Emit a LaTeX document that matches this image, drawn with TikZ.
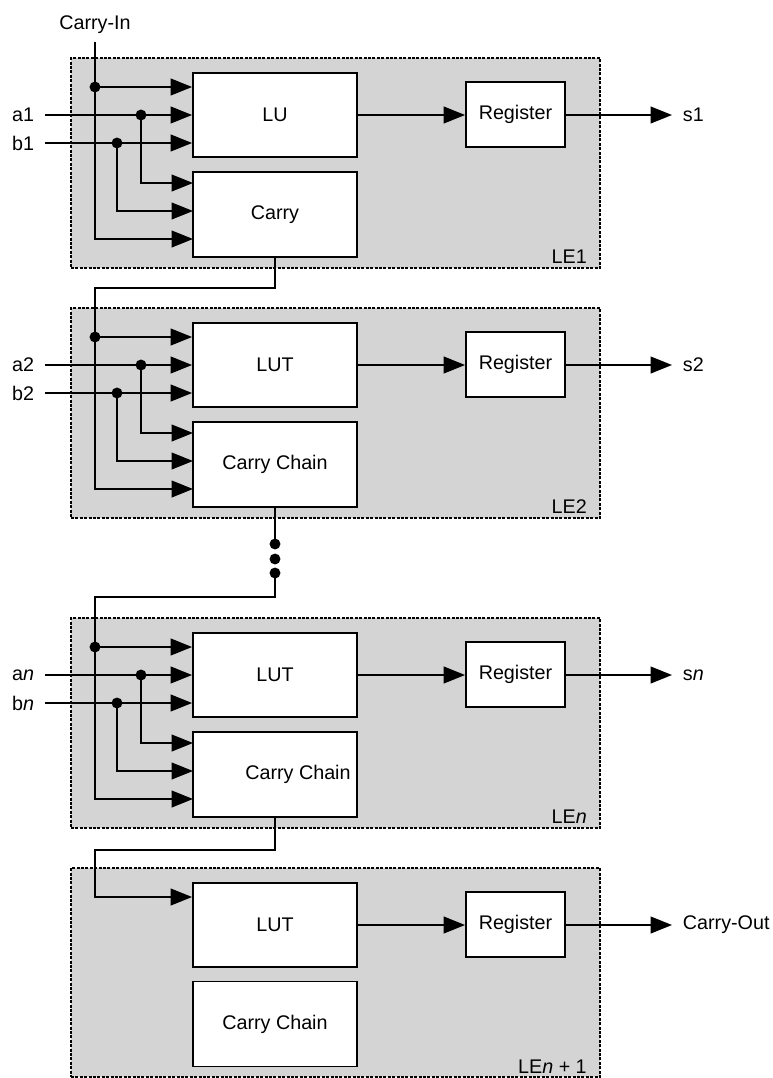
\documentclass[tikz,border=0pt]{standalone}
\usepackage{fontspec}
\setmainfont{Liberation Sans}
\usetikzlibrary{arrows.meta}
\begin{document}
\begin{tikzpicture}[x=0.75pt,y=-0.75pt,
  font=\fontsize{14.8}{17}\selectfont,
  le/.style={draw, fill=black!17, dash pattern=on 2.2pt off 1.1pt, line width=1.8pt, inner sep=0pt, minimum width=396.75pt, minimum height=157.5pt},
  blk/.style={draw, fill=white, line width=1.4pt, inner sep=0pt},
  lubox/.style={blk, minimum width=123pt, minimum height=63pt},
  cybox/.style={blk, minimum width=123pt, minimum height=63.75pt},
  regbox/.style={blk, minimum width=74.25pt, minimum height=48.75pt},
  wire/.style={line width=1.4pt},
  arr/.style={wire, -{Triangle[length=16pt,width=12.5pt]}},
  jdot/.style={circle, fill=black, inner sep=0pt, minimum size=8.2pt},
  inl/.style={anchor=east, inner xsep=8pt, inner ysep=0pt},
  outl/.style={anchor=west, inner xsep=8pt, inner ysep=0pt},
  lelbl/.style={anchor=base east, inner sep=0pt}]
\useasboundingbox (0,0) rectangle (772,1078);

% Carry-In
\node[anchor=base, inner sep=0pt] (cin) at (95,29) {Carry-In};
\coordinate (cintop) at (95,42);

\foreach \i/\o/\t/\ta/\tb/\hs in {1/0/1/LU/Carry/0pt, 2/250/2/LUT/Carry Chain/0pt, n/560/{\textit{n}}/LUT/Carry Chain/34.5pt} {
  \node[le] (le\i) at (335.5,163+\o) {};
  \node[lelbl] (lel\i) at (587,263+\o) {LE\t};
  \node[lubox] (lu\i) at (275,115+\o) {\ta};
  \node[cybox] (cy\i) at (275,214.5+\o) {\hspace*{\hs}\tb};
  \node[regbox] (reg\i) at (515.5,114.5+\o) {Register};
  \node[jdot] (c\i) at (95,87+\o) {};
  \node[jdot] (da\i) at (141,115+\o) {};
  \node[jdot] (db\i) at (117,143+\o) {};
  \node[inl] (a\i) at (45,115+\o) {a\t};
  \node[inl] (b\i) at (45,143+\o) {b\t};
  \node[outl] (s\i) at (672,115+\o) {s\t};
  \coordinate (ia\i) at (193,183+\o);
  \coordinate (ib\i) at (193,211+\o);
  \coordinate (ic\i) at (193,239+\o);
  \draw[arr] (c\i.center) -- (lu\i.west |- c\i);
  \draw[arr] (a\i.east) -- (lu\i.west |- a\i.east);
  \draw[arr] (b\i.east) -- (lu\i.west |- b\i.east);
  \draw[arr] (c\i.center) |- (ic\i);
  \draw[arr] (da\i.center) |- (ia\i);
  \draw[arr] (db\i.center) |- (ib\i);
  \draw[arr] (lu\i.east) -- (reg\i.west |- lu\i.east);
  \draw[arr] (reg\i.east |- s\i.west) -- (s\i.west);
}

% LE n+1
\node[le, minimum height=156.75pt] (le4) at (335.5,972.5) {};
\node[lelbl] (lel4) at (587,1073) {LE\textit{n} + 1};
\node[lubox] (lu4) at (275,925) {LUT};
\node[cybox] (cy4) at (275,1024) {Carry Chain};
\node[regbox] (reg4) at (515.5,924.5) {Register};
\node[outl] (cout) at (672,925) {Carry-Out};
\draw[arr] (lu4.east) -- (reg4.west |- lu4.east);
\draw[arr] (reg4.east |- cout.west) -- (cout.west);

% carry connections
\draw[wire] (cintop) -- (c1.center);
\draw[wire] (cy1.south) -- ++(0,30) -| (c2.center);
\node[jdot] (d1) at (275,544) {};
\node[jdot] (d2) at (275,559) {};
\node[jdot] (d3) at (275,573) {};
\draw[wire] (cy2.south) -- (d1.center);
\draw[wire] (d3.center) -- ++(0,24) -| (cn.center);
\coordinate (k4) at (95,897);
\draw[arr] (cyn.south) -- ++(0,32) -| (k4) -- (lu4.west |- k4);
\end{tikzpicture}
\end{document}
